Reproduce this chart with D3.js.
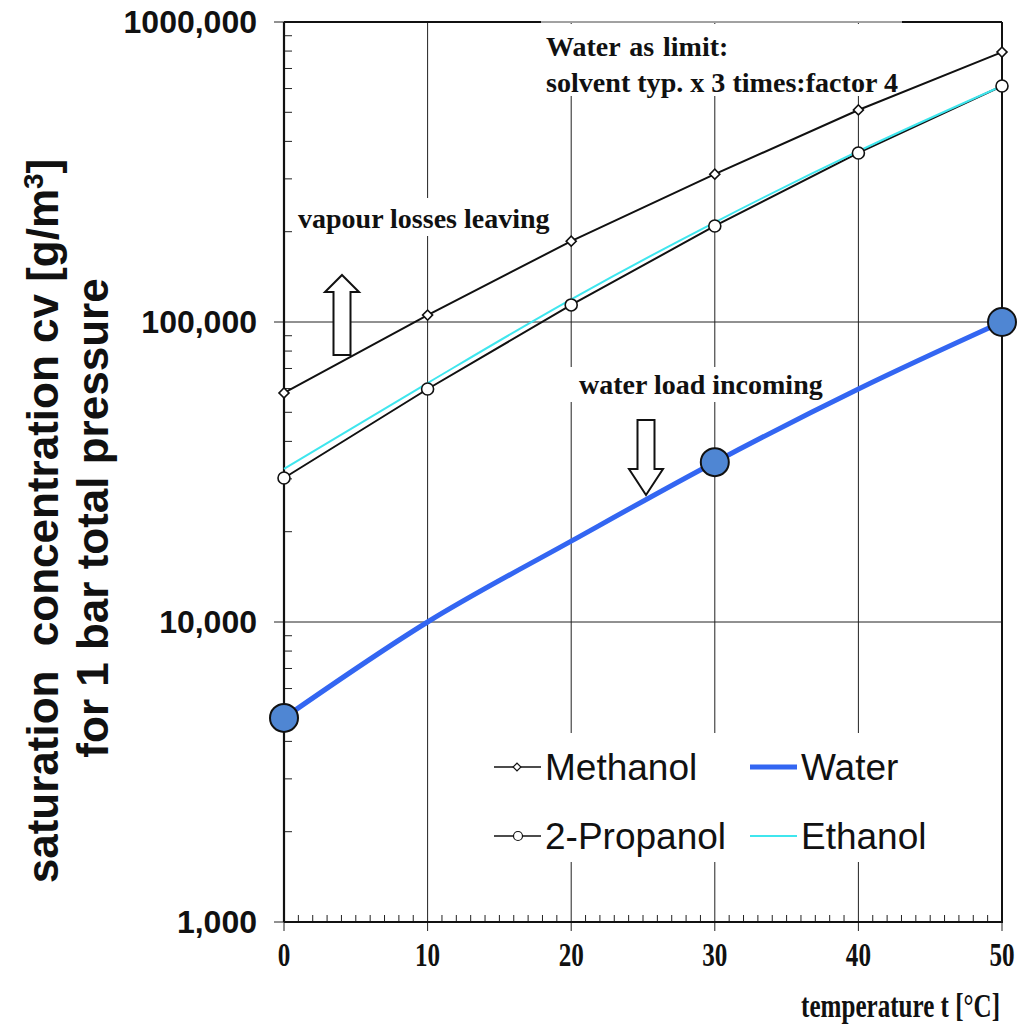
<!DOCTYPE html>
<html><head><meta charset="utf-8">
<script src="https://cdn.jsdelivr.net/npm/d3@7"></script>
<style>body{margin:0;background:#fff}</style>
</head><body>
<svg id="c" width="1022" height="1026"></svg>
<script>
const temps = [0, 10, 20, 30, 40, 50];
const methanol = [58000, 105500, 186000, 311000, 509000, 794000];
const propanol = [30200, 59800, 114000, 209000, 366000, 612000];
const ethanol = [32400, 62600, 119000, 215000, 371000, 612000];
const water = [4790, 10000, 18600, 34100, 59800, 100000];
const waterMarkerTemps = [0, 30, 50];
const yTickValues = [1000, 10000, 100000, 1000000];
const yTickLabels = ["1,000", "10,000", "100,000", "1000,000"];
const xTickValues = [0, 10, 20, 30, 40, 50];

const svg = d3.select("#c");
const x = d3.scaleLinear().domain([0, 50]).range([284, 1002]);
const y = d3.scaleLog().domain([1000, 1000000]).range([922, 22]);
const serif = "'Liberation Serif', 'Times New Roman', serif";
const sans = "'Liberation Sans', Arial, sans-serif";

// gridlines
svg.append("g").selectAll("line").data(yTickValues).join("line")
  .attr("x1", 274).attr("x2", x(50)).attr("y1", d => y(d)).attr("y2", d => y(d))
  .attr("stroke", "#222").attr("stroke-width", 1);
svg.append("g").selectAll("line").data(xTickValues).join("line")
  .attr("x1", d => x(d)).attr("x2", d => x(d)).attr("y1", y(1000000)).attr("y2", 931)
  .attr("stroke", "#222").attr("stroke-width", 1);

// minor ticks
const yMinor = [];
[1000, 10000, 100000].forEach(dec => { for (let k = 2; k <= 9; k++) yMinor.push(dec * k); });
svg.append("g").selectAll("line").data(yMinor).join("line")
  .attr("x1", x(0)).attr("x2", x(0) + 8).attr("y1", d => y(d)).attr("y2", d => y(d))
  .attr("stroke", "#222").attr("stroke-width", 1);
const xMinor = d3.range(0, 51).filter(d => d % 10 !== 0);
svg.append("g").selectAll("line").data(xMinor).join("line")
  .attr("x1", d => x(d)).attr("x2", d => x(d)).attr("y1", y(1000)).attr("y2", y(1000) - 7)
  .attr("stroke", "#222").attr("stroke-width", 1);

// frame
svg.append("line").attr("x1", x(0)).attr("x2", x(0)).attr("y1", y(1000000)).attr("y2", y(1000)).attr("stroke", "#111").attr("stroke-width", 2.2);
svg.append("line").attr("x1", x(0)).attr("x2", x(50) + 1).attr("y1", y(1000)).attr("y2", y(1000)).attr("stroke", "#111").attr("stroke-width", 2.2);
svg.append("line").attr("x1", x(50)).attr("x2", x(50)).attr("y1", y(1000000)).attr("y2", y(1000)).attr("stroke", "#111").attr("stroke-width", 2);
svg.append("line").attr("x1", x(0)).attr("x2", x(50)).attr("y1", y(1000000)).attr("y2", y(1000000)).attr("stroke", "#111").attr("stroke-width", 2);

// white boxes for annotations
function box(x0, y0, w, h) { svg.append("rect").attr("x", x0).attr("y", y0).attr("width", w).attr("height", h).attr("fill", "#fff"); }
box(541, 24, 361, 72);
box(292, 198, 268, 38);
box(570, 367, 263, 35);
box(485, 733, 452, 129);
svg.append("line").attr("x1", 541).attr("x2", 902).attr("y1", y(1000000)).attr("y2", y(1000000)).attr("stroke", "#fff").attr("stroke-width", 2);
svg.append("line").attr("x1", 541).attr("x2", 902).attr("y1", y(1000000)).attr("y2", y(1000000)).attr("stroke", "#444").attr("stroke-width", 1);

// series
const line = d3.line().x((d, i) => x(temps[i])).y(d => y(d));
svg.append("path").datum(methanol).attr("d", line).attr("fill", "none").attr("stroke", "#111").attr("stroke-width", 2);
svg.append("path").datum(propanol).attr("d", line).attr("fill", "none").attr("stroke", "#111").attr("stroke-width", 2);
svg.append("path").datum(ethanol).attr("d", line.curve(d3.curveMonotoneX)).attr("fill", "none").attr("stroke", "#3fe6ee").attr("stroke-width", 2);
svg.append("path").datum(water).attr("d", line.curve(d3.curveMonotoneX)).attr("fill", "none").attr("stroke", "#3366f2").attr("stroke-width", 5);

svg.append("g").selectAll("path").data(methanol).join("path")
  .attr("d", d3.symbol().type(d3.symbolSquare).size(50))
  .attr("transform", (d, i) => `translate(${x(temps[i])},${y(d)}) rotate(45)`)
  .attr("fill", "#fff").attr("stroke", "#111").attr("stroke-width", 1.6);
svg.append("g").selectAll("circle").data(propanol).join("circle")
  .attr("cx", (d, i) => x(temps[i])).attr("cy", d => y(d)).attr("r", 6)
  .attr("fill", "#fff").attr("stroke", "#111").attr("stroke-width", 1.6);
svg.append("g").selectAll("circle").data(waterMarkerTemps).join("circle")
  .attr("cx", d => x(d)).attr("cy", d => y(water[temps.indexOf(d)])).attr("r", 14)
  .attr("fill", "#4f86d3").attr("stroke", "#111").attr("stroke-width", 2);

// arrows
function arrow(cx, top, bottom, up) {
  const sw = 8.5, hw = 17, hl = 17;
  let pts;
  if (up) pts = [[cx, top], [cx + hw, top + hl], [cx + sw, top + hl], [cx + sw, bottom], [cx - sw, bottom], [cx - sw, top + hl], [cx - hw, top + hl]];
  else pts = [[cx - sw, top], [cx + sw, top], [cx + sw, bottom - hl - 9], [cx + hw, bottom - hl - 9], [cx, bottom], [cx - hw, bottom - hl - 9], [cx - sw, bottom - hl - 9]];
  svg.append("polygon").attr("points", pts.map(p => p.join(",")).join(" "))
    .attr("fill", "#fff").attr("stroke", "#111").attr("stroke-width", 2);
}
arrow(342, 275, 355, true);
arrow(646, 420, 495, false);

// annotation text
function txt(t, tx, ty, size, anchor, family, weight) {
  return svg.append("text").attr("x", tx).attr("y", ty).attr("font-size", size).attr("font-family", family || serif)
    .attr("font-weight", weight || "bold").attr("text-anchor", anchor || "start").attr("fill", "#111").text(t);
}
txt("Water as limit:", 546, 56, 28).attr("word-spacing", 2);
txt("solvent typ. x 3 times:factor 4", 546, 92, 28).attr("textLength", 352).attr("lengthAdjust", "spacingAndGlyphs");
txt("vapour losses leaving", 298, 228, 28);
txt("water load incoming", 579, 394, 28);

// tick labels
svg.append("g").selectAll("text").data(yTickValues).join("text")
  .attr("x", 257).attr("y", d => y(d) + 11).attr("text-anchor", "end")
  .attr("font-family", sans).attr("font-weight", "bold").attr("font-size", 32).attr("fill", "#111")
  .text((d, i) => yTickLabels[i]);
svg.append("g").selectAll("text").data(xTickValues).join("text")
  .attr("transform", d => `translate(${x(d)},966) scale(0.74,1)`).attr("text-anchor", "middle")
  .attr("font-family", serif).attr("font-weight", "bold").attr("font-size", 34).attr("fill", "#111")
  .text(d => d);
svg.append("text").attr("transform", "translate(1000,1017) scale(0.76,1)").attr("text-anchor", "end")
  .attr("font-family", serif).attr("font-weight", "bold").attr("font-size", 33).attr("fill", "#111")
  .text("temperature t [°C]");

// y axis title
const yt = svg.append("text").attr("transform", "translate(58,521) rotate(-90)")
  .attr("text-anchor", "middle").attr("font-family", sans).attr("font-weight", "bold").attr("font-size", 44).attr("fill", "#111")
  .style("white-space", "pre");
yt.append("tspan").text("saturation  concentration cv [g/m");
yt.append("tspan").attr("dy", -15).attr("font-size", 28).text("3");
yt.append("tspan").attr("dy", 15).text("]");
svg.append("text").attr("transform", "translate(108,518) rotate(-90)")
  .attr("text-anchor", "middle").attr("font-family", sans).attr("font-weight", "bold").attr("font-size", 44).attr("fill", "#111")
  .text("for 1 bar total pressure");

// legend
const legend = [
  {name: "Methanol", lx: 494, ly: 767, color: "#111", w: 1.6, mark: "diamond"},
  {name: "Water", lx: 750, ly: 767, color: "#3366f2", w: 5, mark: null},
  {name: "2-Propanol", lx: 494, ly: 836, color: "#111", w: 1.6, mark: "circle"},
  {name: "Ethanol", lx: 750, ly: 836, color: "#3fe6ee", w: 2, mark: null}
];
legend.forEach(l => {
  svg.append("line").attr("x1", l.lx).attr("x2", l.lx + 47).attr("y1", l.ly).attr("y2", l.ly).attr("stroke", l.color).attr("stroke-width", l.w);
  if (l.mark === "diamond") svg.append("path").attr("d", d3.symbol().type(d3.symbolSquare).size(30)).attr("transform", `translate(${l.lx + 23},${l.ly}) rotate(45)`).attr("fill", "#fff").attr("stroke", "#111").attr("stroke-width", 1.2);
  if (l.mark === "circle") svg.append("circle").attr("cx", l.lx + 24).attr("cy", l.ly).attr("r", 4.5).attr("fill", "#fff").attr("stroke", "#111").attr("stroke-width", 1.2);
  svg.append("text").attr("x", l.lx + 51).attr("y", l.ly + 13).attr("font-family", sans).attr("font-size", 37).attr("fill", "#111").text(l.name);
});
</script>
</body></html>
